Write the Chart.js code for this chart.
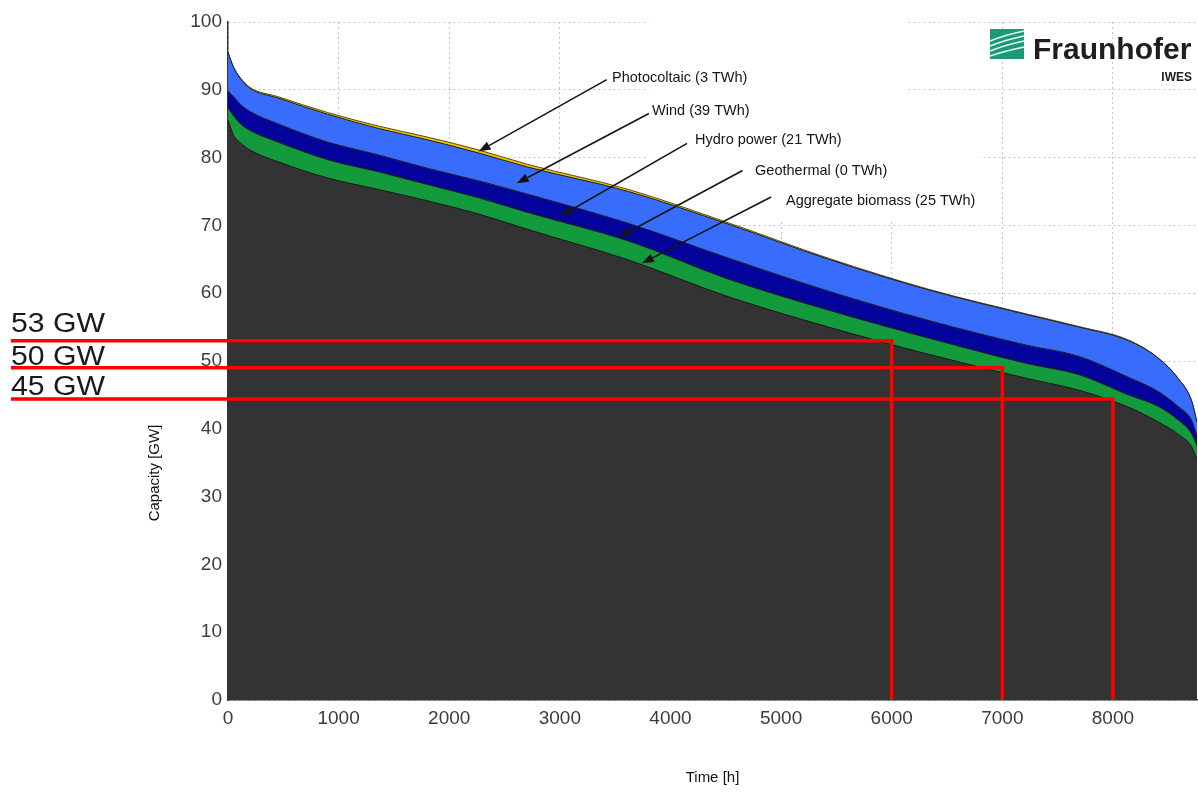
<!DOCTYPE html>
<html>
<head>
<meta charset="utf-8">
<script src="https://cdn.jsdelivr.net/npm/chart.js@4.4.1/dist/chart.umd.min.js"></script>
<style>
  html, body { margin: 0; padding: 0; background: #fff; }
  #wrap { width: 1198px; height: 794px; }
</style>
</head>
<body>
<div id="wrap"><canvas id="c" width="1198" height="794"></canvas></div>
<script>
// duration curve, hours of the year sorted by load
const hours = [0, 50, 110, 200, 450, 900, 1360, 1810, 2260, 2710, 3620, 4520, 5430, 6330, 7230, 7690, 8140, 8410, 8590, 8710, 8760];
// GW per band, bottom to top
const residual   = [85.5, 83.3, 82.2, 81.1, 79.4, 77.0, 75.3, 73.6, 71.7, 69.4, 64.9, 59.5, 55.0, 51.0, 47.4, 45.7, 43.2, 41.0, 39.2, 37.4, 35.5];
const biomass    = [1.8, 2.9, 2.8, 2.9, 2.9, 2.7, 2.6, 2.4, 2.4, 2.5, 2.8, 2.6, 2.5, 2.4, 2.2, 2.3, 1.8, 2.3, 2.1, 1.9, 2.0];
const geothermal = [0, 0, 0, 0, 0, 0, 0, 0, 0, 0, 0, 0, 0, 0, 0, 0, 0, 0, 0, 0, 0];
const hydro      = [2.5, 2.8, 2.9, 2.8, 2.7, 2.6, 2.5, 2.4, 2.5, 2.7, 2.6, 3.1, 2.8, 2.6, 2.7, 2.7, 2.6, 2.2, 2.0, 2.0, 1.5];
const wind       = [5.7, 4.3, 3.8, 3.4, 3.8, 4.1, 3.9, 4.2, 4.1, 4.0, 4.7, 5.0, 4.7, 4.5, 4.5, 4.3, 5.4, 4.9, 4.1, 2.9, 2.0];
const pv         = [0, 0.1, 0.12, 0.15, 0.2, 0.25, 0.35, 0.4, 0.45, 0.4, 0.3, 0.2, 0.15, 0.1, 0.1, 0.1, 0.1, 0.05, 0.05, 0, 0];

const xTicks = [0, 1000, 2000, 3000, 4000, 5000, 6000, 7000, 8000];

// red guide lines
const refHours  = [6000, 7000, 8000];
const refLevels = [53, 49, 44.4];
const refLabels = ['53 GW', '50 GW', '45 GW'];
const refLift   = [9, 3, 4];

// arrow notes: text anchor, arrow tail, arrow tip (hours, GW)
const notes = [
  { text: 'Photocoltaic (3 TWh)',       at: [3472, 91.7], from: [3424, 91.5], to: [2265, 80.9] },
  { text: 'Wind (39 TWh)',              at: [3834, 86.9], from: [3805, 86.5], to: [2610, 76.2] },
  { text: 'Hydro power (21 TWh)',       at: [4222, 82.6], from: [4150, 82.1], to: [3008, 71.4] },
  { text: 'Geothermal (0 TWh)',         at: [4765, 78.0], from: [4652, 78.1], to: [3535, 68.3] },
  { text: 'Aggregate biomass (25 TWh)', at: [5045, 73.6], from: [4910, 74.2], to: [3742, 64.4] }
];

// white patches hiding the grid behind the labels [h0, h1, gw0, gw1]
const blankAreas = [[3800, 6150, 71, 101], [3800, 6800, 78.5, 81.5]];

const FONT = "'Liberation Sans', Arial, sans-serif";
const pts = arr => hours.map((h, i) => ({ x: h, y: arr[i] }));

function band(label, arr, color, fill, border) {
  return {
    label, data: pts(arr), fill,
    backgroundColor: color,
    borderColor: border || '#1c1c1c',
    borderWidth: 1,
    pointRadius: 0,
    cubicInterpolationMode: 'monotone'
  };
}

function arrow(ctx, x0, y0, x1, y1) {
  const a = Math.atan2(y1 - y0, x1 - x0);
  const len = 12, w = 4.5;
  const bx = x1 - len * Math.cos(a), by = y1 - len * Math.sin(a);
  ctx.beginPath();
  ctx.moveTo(x0, y0);
  ctx.lineTo(bx, by);
  ctx.stroke();
  ctx.beginPath();
  ctx.moveTo(x1, y1);
  ctx.lineTo(bx + w * Math.sin(a), by - w * Math.cos(a));
  ctx.lineTo(bx - w * Math.sin(a), by + w * Math.cos(a));
  ctx.closePath();
  ctx.fill();
}

const overlay = {
  id: 'overlay',
  beforeDatasetsDraw(chart) {
    const { ctx, scales: { x, y } } = chart;
    ctx.save();
    ctx.fillStyle = '#fff';
    blankAreas.forEach(r => {
      const x0 = x.getPixelForValue(r[0]), x1 = x.getPixelForValue(r[1]);
      const y0 = y.getPixelForValue(r[3]), y1 = y.getPixelForValue(r[2]);
      ctx.fillRect(x0, y0 - 1, x1 - x0, y1 - y0 + 1);
    });
    ctx.restore();
  },
  afterDatasetsDraw(chart) {
    const { ctx, scales: { x, y } } = chart;
    ctx.save();
    // red guide lines
    ctx.strokeStyle = '#ff0000';
    ctx.lineWidth = 3.5;
    refHours.forEach((h, i) => {
      const px = x.getPixelForValue(h), py = y.getPixelForValue(refLevels[i]);
      ctx.beginPath();
      ctx.moveTo(11, py);
      ctx.lineTo(px, py);
      ctx.lineTo(px, y.getPixelForValue(0));
      ctx.stroke();
    });
    ctx.fillStyle = '#1a1a1a';
    ctx.font = '27px ' + FONT;
    ctx.textBaseline = 'alphabetic';
    ctx.textAlign = 'left';
    refLabels.forEach((t, i) => {
      ctx.save();
      ctx.translate(11, y.getPixelForValue(refLevels[i]) - refLift[i]);
      ctx.scale(1.12, 1);
      ctx.fillText(t, 0, 0);
      ctx.restore();
    });
    // arrow notes
    ctx.strokeStyle = '#151515';
    ctx.fillStyle = '#151515';
    ctx.lineWidth = 1.6;
    ctx.font = '14.5px ' + FONT;
    ctx.textBaseline = 'middle';
    notes.forEach(n => {
      arrow(ctx, x.getPixelForValue(n.from[0]), y.getPixelForValue(n.from[1]),
                 x.getPixelForValue(n.to[0]), y.getPixelForValue(n.to[1]));
      ctx.fillText(n.text, x.getPixelForValue(n.at[0]), y.getPixelForValue(n.at[1]));
    });
    ctx.restore();
  },
  afterDraw(chart) {
    const { ctx } = chart;
    ctx.save();
    // y axis title
    ctx.translate(155, 473);
    ctx.rotate(-Math.PI / 2);
    ctx.fillStyle = '#111';
    ctx.font = '15px ' + FONT;
    ctx.textAlign = 'center';
    ctx.textBaseline = 'middle';
    ctx.fillText('Capacity [GW]', 0, 0);
    ctx.restore();

    // Fraunhofer logo
    ctx.save();
    ctx.fillStyle = '#1a9b74';
    ctx.fillRect(990, 29, 34, 30);
    ctx.strokeStyle = 'rgba(255,255,255,0.9)';
    ctx.lineWidth = 1.6;
    [[41, 31], [46, 36], [51, 41], [56, 47]].forEach(([a, b]) => {
      ctx.beginPath();
      ctx.moveTo(990, a);
      ctx.quadraticCurveTo(1005, b + 4, 1024, b);
      ctx.stroke();
    });
    ctx.fillStyle = '#1e1e1e';
    ctx.font = 'bold 30px ' + FONT;
    ctx.textAlign = 'left';
    ctx.textBaseline = 'alphabetic';
    ctx.fillText('Fraunhofer', 1033, 59);
    ctx.font = 'bold 12px ' + FONT;
    ctx.textAlign = 'right';
    ctx.fillText('IWES', 1192, 81);
    ctx.restore();
  }
};

new Chart(document.getElementById('c').getContext('2d'), {
  type: 'line',
  data: {
    datasets: [
      band('Residual load', residual, '#333333', 'origin', '#111'),
      band('Aggregate biomass', biomass, '#139a3c', '-1'),
      band('Geothermal', geothermal, '#139a3c', '-1'),
      band('Hydro power', hydro, '#04049c', '-1'),
      band('Wind', wind, '#386cfd', '-1'),
      band('Photovoltaic', pv, '#f4c300', '-1', '#5a4a10')
    ]
  },
  options: {
    responsive: false,
    animation: false,
    layout: { padding: { top: 22, right: 1, left: 0, bottom: 0 } },
    plugins: {
      legend: { display: false },
      tooltip: { enabled: false }
    },
    scales: {
      x: {
        type: 'linear',
        min: 0,
        max: 8760,
        afterFit: s => { s.height = 94; },
        afterBuildTicks: s => { s.ticks = xTicks.map(v => ({ value: v })); },
        ticks: {
          maxRotation: 0,
          autoSkip: false,
          padding: 7,
          color: '#3c3c3c',
          font: { family: FONT, size: 19 },
          callback: v => String(v)
        },
        grid: { color: '#c4c4c4', drawTicks: false, lineWidth: 1 },
        border: { display: true, color: '#333', width: 1.5, dash: [2, 3] },
        title: {
          display: true,
          text: 'Time [h]',
          color: '#111',
          font: { family: FONT, size: 15 },
          padding: { top: 4, bottom: 7 }
        }
      },
      y: {
        stacked: true,
        min: 0,
        max: 100,
        afterFit: s => { s.width = 228; },
        ticks: {
          stepSize: 10,
          padding: 6,
          color: '#3c3c3c',
          font: { family: FONT, size: 19 }
        },
        grid: { color: '#c4c4c4', drawTicks: false, lineWidth: 1 },
        border: { display: true, color: '#333', width: 1.5, dash: [2, 3] }
      }
    }
  },
  plugins: [overlay]
});
</script>
</body>
</html>
